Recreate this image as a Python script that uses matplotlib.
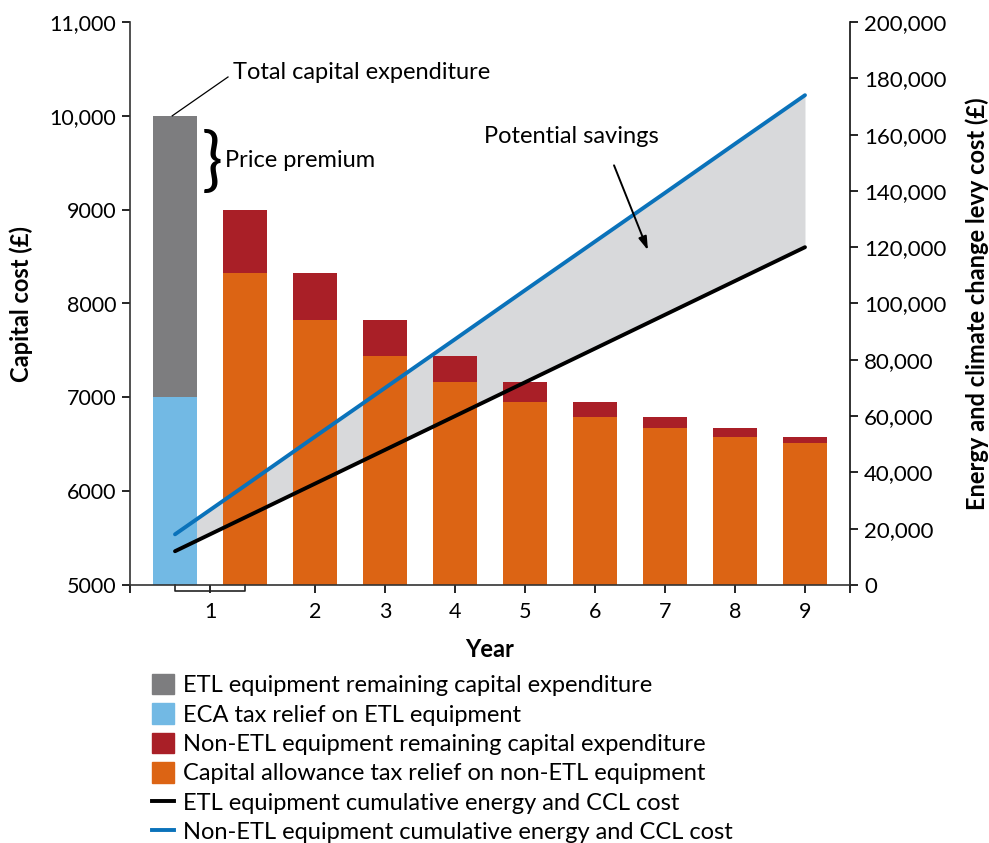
import matplotlib
matplotlib.use("Agg")
import matplotlib.pyplot as plt
from matplotlib.patches import Patch
from matplotlib.lines import Line2D

plt.rcParams['font.family'] = ['Lato', 'DejaVu Sans']

# data
years = ['1', '2', '3', '4', '5', '6', '7', '8', '9']
etl_relief = 7000        # ECA tax relief on ETL equipment
etl_remaining = 3000     # ETL remaining capital expenditure (on top)
nonetl_relief = [8320, 7820, 7440, 7160, 6950, 6790, 6670, 6580, 6510]
nonetl_remaining = [680, 500, 380, 280, 210, 160, 120, 90, 70]
etl_cum = [12000, 24000, 36000, 48000, 60000, 72000, 84000, 96000, 108000, 120000]
nonetl_cum = [18000, 35300, 52700, 70000, 87300, 104700, 122000, 139300, 156700, 174000]

grey = '#7d7d7f'
lightblue = '#72b9e4'
red = '#a91f27'
orange = '#dc6414'
blue = '#0a72ba'
bg = '#ebebeb'
shade = '#d8d9db'

fig = plt.figure(figsize=(9.89, 8.43), dpi=100)
ax = fig.add_axes([130/989, 258/843, 720/989, 563/843])
axF = ax.twinx()   # background + shaded savings (behind bars)
axL = ax.twinx()   # lines (above bars)
axF.set_zorder(0)
ax.set_zorder(1)
axL.set_zorder(2)
ax.patch.set_visible(False)
axL.patch.set_visible(False)
axF.set_facecolor(bg)

pos_etl = 0
pos_non = list(range(1, 10))
bw = 0.63

ax.bar(pos_etl, etl_relief, bw, color=lightblue)
ax.bar(pos_etl, etl_remaining, bw, bottom=etl_relief, color=grey)
ax.bar(pos_non, nonetl_relief, bw, color=orange)
ax.bar(pos_non, nonetl_remaining, bw, bottom=nonetl_relief, color=red)

xs = list(range(10))
axF.fill_between(xs, etl_cum, nonetl_cum, color=shade, lw=0)
axL.plot(xs, nonetl_cum, color=blue, lw=2.8, solid_capstyle='round')
axL.plot(xs, etl_cum, color='black', lw=2.8, solid_capstyle='round')

xmin, xmax = -0.643, 9.643
for a in (ax, axF, axL):
    a.set_xlim(xmin, xmax)
ax.set_ylim(5000, 11000)
axF.set_ylim(0, 200000)
axL.set_ylim(0, 200000)
axL.set_axis_off()

# spines
for s in ['top', 'right']:
    ax.spines[s].set_visible(False)
for s in ['top', 'left', 'bottom']:
    axF.spines[s].set_visible(False)
ax.spines['left'].set_color('#333333')
ax.spines['bottom'].set_color('#333333')
axF.spines['right'].set_color('#111111')
for sp in ax.spines.values():
    sp.set_linewidth(1.2)
axF.spines['right'].set_linewidth(1.2)

fs = 17
tfs = 15.5
yt = [5000, 6000, 7000, 8000, 9000, 10000, 11000]
ax.set_yticks(yt)
ax.set_yticklabels(['5000', '6000', '7000', '8000', '9000', '10,000', '11,000'])
ax.tick_params(axis='y', length=6, width=1.2, pad=4, labelsize=tfs)
rt = list(range(0, 200001, 20000))
axF.set_yticks(rt)
axF.set_yticklabels([f'{v:,}' for v in rt])
axF.tick_params(axis='y', length=6, width=1.2, pad=4, labelsize=16)

xt = [xmin, 0.5] + list(range(2, 10)) + [xmax]
ax.set_xticks(xt)
ax.set_xticklabels([''] + years + [''])
ax.tick_params(axis='x', length=6, width=1.2, pad=6, labelsize=tfs)
axF.tick_params(axis='x', length=0, labelbottom=False)

# bracket under year 1
ax.plot([0, 0, 1, 1], [0, -0.011, -0.011, 0], color='#222222', lw=1.2,
        transform=ax.get_xaxis_transform(), clip_on=False)

ax.set_xlabel('Year', fontsize=fs, fontweight='bold', labelpad=12)
ax.set_ylabel('Capital cost (£)', fontsize=fs, fontweight='bold', labelpad=12)
axF.set_ylabel('Energy and climate change levy cost (£)', fontsize=fs,
               fontweight='bold', labelpad=14)

# annotations
ax.plot([-0.04, 0.757], [10000, 10414], color='black', lw=0.9)
ax.text(0.83, 10457, 'Total capital expenditure', fontsize=fs, va='center', ha='left')
ax.text(0.53, 9500, '}', fontsize=50, va='center', ha='center', fontweight='normal')
ax.text(0.71, 9520, 'Price premium', fontsize=fs, va='center', ha='left')
ax.text(4.414, 9785, 'Potential savings', fontsize=fs, va='center', ha='left')
axL.annotate('', xy=(6.771, 118000), xytext=(6.257, 150000),
             arrowprops=dict(arrowstyle='-|>,head_length=0.8,head_width=0.25',
                             color='black', lw=1.4))

handles = [Patch(color=grey), Patch(color=lightblue), Patch(color=red),
           Patch(color=orange), Line2D([], [], color='black', lw=2.8),
           Line2D([], [], color=blue, lw=2.8)]
labels = ['ETL equipment remaining capital expenditure',
          'ECA tax relief on ETL equipment',
          'Non-ETL equipment remaining capital expenditure',
          'Capital allowance tax relief on non-ETL equipment',
          'ETL equipment cumulative energy and CCL cost',
          'Non-ETL equipment cumulative energy and CCL cost']
fig.legend(handles, labels, loc='upper left', bbox_to_anchor=(152/989, 1 - 674/843),
           frameon=False, fontsize=fs, borderpad=0, borderaxespad=0,
           handlelength=0.95, handleheight=0.95, handletextpad=0.35,
           labelspacing=0.3)

fig.savefig('out.png', dpi=100)
